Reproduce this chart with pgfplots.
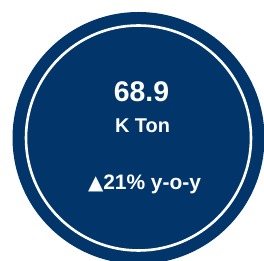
\documentclass[border=0pt]{standalone}
\usepackage{pgfplots}
\pgfplotsset{compat=1.18}
\usepackage{fontspec}
\setmainfont{Liberation Sans}
\newfontfamily\symfont{DejaVu Sans}
\definecolor{navy}{RGB}{2,54,106}
\begin{document}
\begin{tikzpicture}
\useasboundingbox (0,0) rectangle (264bp,261bp);
\clip (0,0) rectangle (264bp,261bp);
\begin{axis}[at={(0,0)},anchor=south west,scale only axis,hide axis,
  width=264bp,height=261bp,xmin=0,xmax=264,ymin=0,ymax=261,clip=false]
\fill[navy] (axis cs:138.5,123) circle [radius=126];
\draw[white,line width=2.6bp] (axis cs:138.5,123) circle [radius=112.5];
\node[white,anchor=base,inner sep=0pt,font=\bfseries\fontsize{28.5}{32}\selectfont] at (axis cs:141.5,159) {68.9};
\node[white,anchor=base,inner sep=0pt,font=\bfseries\fontsize{20}{23}\selectfont] at (axis cs:142.5,128) {K Ton};
\node[white,anchor=base,inner sep=0pt,font=\bfseries\fontsize{21}{24}\selectfont] at (axis cs:144.5,71) {{\symfont\fontsize{20}{24}\selectfont ▲}21\% y-o-y};
\end{axis}
\end{tikzpicture}
\end{document}
